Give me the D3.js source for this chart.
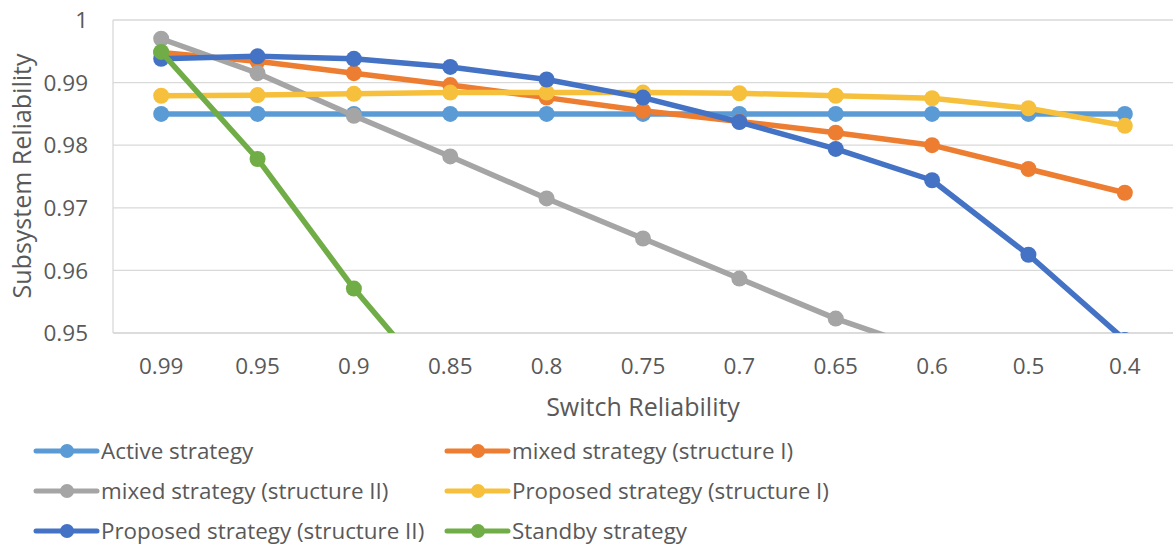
<!DOCTYPE html>
<html><head><meta charset="utf-8">
<script src="https://cdn.jsdelivr.net/npm/d3@7"></script>
<style>body{margin:0;background:#fff}svg{display:block}text{font-family:"Open Sans",sans-serif;fill:#595959}</style>
</head><body><svg id="c" width="1173" height="545"></svg>
<script>
const categories = ["0.99","0.95","0.9","0.85","0.8","0.75","0.7","0.65","0.6","0.5","0.4"];
const yTicks = [0.95,0.96,0.97,0.98,0.99,1];
const seriesNames = ["Active strategy","mixed strategy (structure I)","mixed strategy (structure II)","Proposed strategy (structure I)","Proposed strategy (structure II)","Standby strategy"];
const activeVals   = [0.985,0.985,0.985,0.985,0.985,0.985,0.985,0.985,0.985,0.985,0.985];
const mixedIVals   = [0.9948,0.9934,0.9915,0.9896,0.9876,0.9855,0.9838,0.9820,0.9800,0.9762,0.9724];
const mixedIIVals  = [0.9970,0.9915,0.9847,0.9782,0.9715,0.9651,0.9587,0.9523,0.9470,0.9400,0.9330];
const propIVals    = [0.9879,0.9880,0.9882,0.9884,0.9884,0.9884,0.9883,0.9879,0.9875,0.9859,0.9831];
const propIIVals   = [0.9938,0.9942,0.9938,0.9925,0.9905,0.9876,0.9837,0.9794,0.9744,0.9625,0.9489];
const standbyVals  = [0.9949,0.9778,0.9571,0.9390,0.9200,0.9000,0.8800,0.8600,0.8400,0.8000,0.7600];
const colors = ["#5B9BD5","#ED7D31","#A5A5A5","#F7C03C","#4472C4","#70AD47"];
const allVals = [activeVals,mixedIVals,mixedIIVals,propIVals,propIIVals,standbyVals];

const svg = d3.select("#c");
const L=113, R=1173, T=20, B=333;
const x = d3.scaleBand().domain(categories).range([L,R]);
const y = d3.scaleLinear().domain([0.95,1]).range([B,T]);

// gridlines
svg.append("g").selectAll("line").data(yTicks).join("line")
  .attr("x1",L).attr("x2",R).attr("y1",d=>y(d)).attr("y2",d=>y(d))
  .attr("stroke",d=>d===0.95?"#D0D0D0":"#D9D9D9").attr("stroke-width",1.3);
svg.append("line").attr("x1",L).attr("x2",L).attr("y1",T).attr("y2",B).attr("stroke","#D9D9D9").attr("stroke-width",1.3);

// y tick labels
svg.append("g").selectAll("text").data(yTicks).join("text")
  .attr("x",88).attr("y",d=>y(d)).attr("dy","0.36em").attr("text-anchor","end")
  .style("font-size","22.5px").text(d=>d===1?"1":d3.format(".2f")(d));
// x tick labels
svg.append("g").selectAll("text").data(categories).join("text")
  .attr("x",d=>x(d)+x.bandwidth()/2).attr("y",366).attr("dy","0.36em").attr("text-anchor","middle")
  .style("font-size","22.5px").text(d=>d);

// axis titles
svg.append("text").attr("x",643).attr("y",407).attr("dy","0.36em").attr("text-anchor","middle")
  .style("font-size","25px").text("Switch Reliability");
svg.append("text").attr("transform","translate(22,176) rotate(-90)").attr("dy","0.36em").attr("text-anchor","middle")
  .style("font-size","25px").text("Subsystem Reliability");

// clip
svg.append("defs").append("clipPath").attr("id","pc").append("rect")
  .attr("x",L).attr("y",0).attr("width",R-L).attr("height",B-0);
const plot = svg.append("g").attr("clip-path","url(#pc)");
const line = d3.line().x((d,i)=>x(categories[i])+x.bandwidth()/2).y(d=>y(d));
allVals.forEach((vals,si)=>{
  const g = plot.append("g");
  g.append("path").datum(vals).attr("d",line).attr("fill","none")
    .attr("stroke",colors[si]).attr("stroke-width",5.5).attr("stroke-linejoin","round");
  g.selectAll("circle").data(vals).join("circle")
    .attr("cx",(d,i)=>x(categories[i])+x.bandwidth()/2).attr("cy",d=>y(d)).attr("r",8)
    .attr("fill",colors[si]);
});

// legend
const legPos = [[36,451],[447,451],[36,491],[447,491],[36,531],[447,531]];
seriesNames.forEach((name,i)=>{
  const [lx,ly]=legPos[i];
  const g=svg.append("g");
  g.append("line").attr("x1",lx).attr("x2",lx+61).attr("y1",ly).attr("y2",ly)
    .attr("stroke",colors[i]).attr("stroke-width",5).attr("stroke-linecap","round");
  g.append("circle").attr("cx",lx+31).attr("cy",ly).attr("r",7).attr("fill",colors[i]);
  g.append("text").attr("x",lx+65).attr("y",ly).attr("dy","0.36em").style("font-size","22.4px").text(name);
});
</script></body></html>
